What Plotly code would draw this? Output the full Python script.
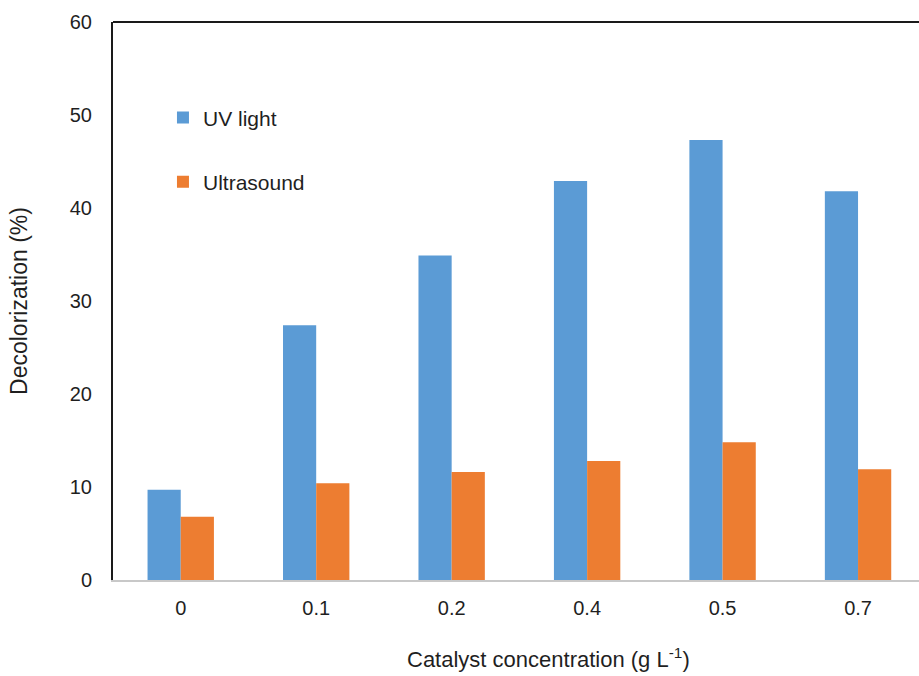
import plotly.graph_objects as go

categories = ["0", "0.1", "0.2", "0.4", "0.5", "0.7"]
uv_light = [9.7, 27.4, 34.9, 42.9, 47.3, 41.8]
ultrasound = [6.8, 10.4, 11.6, 12.8, 14.8, 11.9]
y_ticks = [0, 10, 20, 30, 40, 50, 60]

FONT = "Liberation Sans, Arial, sans-serif"
TXT = "#1f1f1f"

fig = go.Figure()
fig.add_trace(go.Bar(x=categories, y=uv_light, name="UV light",
                     marker=dict(color="#5B9BD5", line=dict(width=0)),
                     legendgroup="a"))
fig.add_trace(go.Bar(x=categories, y=ultrasound, name="Ultrasound",
                     marker=dict(color="#ED7D31", line=dict(width=0)),
                     legendgroup="b"))

fig.update_layout(
    width=919, height=676,
    margin=dict(l=113, r=0, t=22, b=96),
    paper_bgcolor="white", plot_bgcolor="white",
    barmode="group", bargap=0.51, bargroupgap=0,
    font=dict(family=FONT, size=21, color=TXT),
    showlegend=True,
    legend=dict(x=0.062, y=0.865, xanchor="left", yanchor="top",
                bgcolor="rgba(0,0,0,0)", font=dict(size=21, color=TXT),
                tracegroupgap=34, itemwidth=30),
    xaxis=dict(type="category", range=[-0.5, 5.45],
               showline=True, linecolor="#c8c8c8", linewidth=1.5,
               ticks="", showgrid=False, ticklabelstandoff=9,
               tickfont=dict(size=20, color=TXT)),
    yaxis=dict(range=[0, 60], tickvals=y_ticks,
               showline=True, linecolor="#1a1a1a", linewidth=2,
               ticks="", showgrid=False, zeroline=False,
               ticklabelstandoff=15,
               tickfont=dict(size=20, color=TXT),
               title=dict(text="Decolorization (%)", standoff=36,
                          font=dict(size=23, color=TXT))),
    shapes=[dict(type="line", xref="paper", yref="paper",
                 x0=0, x1=1, y0=1, y1=1,
                 line=dict(color="#1a1a1a", width=2))],
    annotations=[dict(text="Catalyst concentration (g L<sup>-1</sup>)",
                      xref="paper", yref="paper",
                      x=(548 - 113) / 806, y=-(658 - 580) / 558,
                      xanchor="center", yanchor="middle", showarrow=False,
                      font=dict(size=22, color=TXT))],
)

fig.write_html("out.html")
